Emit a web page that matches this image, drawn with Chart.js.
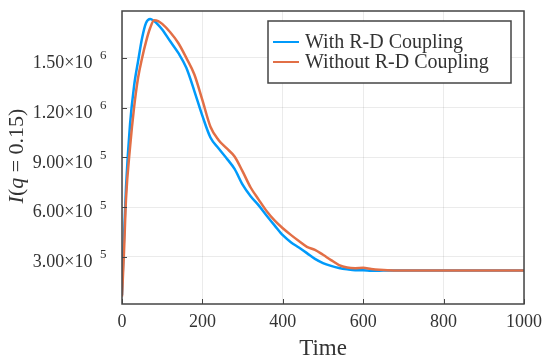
<!DOCTYPE html>
<html>
<head>
<meta charset="utf-8">
<script src="https://cdn.jsdelivr.net/npm/chart.js@4"></script>
<style>
  html, body { margin: 0; padding: 0; background: #fff; }
  #wrap { width: 550px; height: 361px; }
</style>
</head>
<body>
<div id="wrap"><canvas id="myChart" width="550" height="361"></canvas></div>
<script>
const times = [0, 5, 10, 20, 30, 40, 50, 60, 70, 80, 90, 100, 120, 140, 160, 180, 200, 220, 240, 260, 280, 300,
    320, 340, 360, 380, 400, 420, 440, 460, 480, 500, 520, 540, 560, 580, 600, 620, 640, 660, 700, 800, 900, 1000];
const withCoupling = [70000, 420000, 720000, 1100000, 1330000, 1480000, 1620000, 1712000, 1735000, 1722000, 1700000, 1672000,
    1600000, 1530000, 1440000, 1300000, 1150000, 1020000, 955000, 895000, 830000, 735000,
    665000, 610000, 548000, 488000, 430000, 388000, 356000, 322000, 287000, 262000, 245000, 232000, 224000, 219000,
    219000, 216000, 216000, 217000, 217000, 217000, 217000, 217000];
const withoutCoupling = [60000, 330000, 650000, 960000, 1200000, 1380000, 1500000, 1600000, 1680000, 1727000, 1722000, 1705000,
    1655000, 1590000, 1500000, 1400000, 1245000, 1085000, 1005000, 955000, 905000, 815000,
    718000, 645000, 575000, 518000, 472000, 432000, 395000, 360000, 342000, 312000, 280000, 250000, 235000, 231000,
    233000, 226000, 221000, 218000, 217000, 217000, 217000, 217000];
const seriesNames = ['With R-D Coupling', 'Without R-D Coupling'];
const xTicks = [0, 200, 400, 600, 800, 1000];
const yTicks = [300000, 600000, 900000, 1200000, 1500000];
const yTickMantissa = ['3.00×10', '6.00×10', '9.00×10', '1.20×10', '1.50×10'];
const yTickExponent = ['5', '5', '5', '6', '6'];

const SERIF = '"Liberation Serif", "DejaVu Serif", serif';
const TEXT = '#333333';
const FRAME = '#444444';

const toPoints = (vals) => vals.map((v, i) => ({ x: times[i], y: v }));

// frame, inward ticks, y labels, axis titles and boxed legend
const decorations = {
    id: 'decorations',
    afterDraw(chart) {
        const { ctx, chartArea: a, scales } = chart;
        const x = scales.x, y = scales.y;
        ctx.save();

        ctx.strokeStyle = FRAME;
        ctx.lineWidth = 1.5;
        ctx.strokeRect(a.left, a.top, a.right - a.left, a.bottom - a.top);

        ctx.lineWidth = 1;
        ctx.beginPath();
        xTicks.forEach(t => {
            const px = Math.round(x.getPixelForValue(t)) + 0.5;
            ctx.moveTo(px, a.bottom);
            ctx.lineTo(px, a.bottom - 5);
        });
        yTicks.forEach(t => {
            const py = Math.round(y.getPixelForValue(t)) + 0.5;
            ctx.moveTo(a.left, py);
            ctx.lineTo(a.left + 5, py);
        });
        ctx.stroke();

        ctx.fillStyle = TEXT;
        yTicks.forEach((t, i) => {
            const py = y.getPixelForValue(t);
            ctx.font = '18px ' + SERIF;
            ctx.textAlign = 'right';
            ctx.textBaseline = 'alphabetic';
            ctx.fillText(yTickMantissa[i], 92.5, py + 10.3);
            ctx.font = '13px ' + SERIF;
            ctx.textAlign = 'left';
            ctx.fillText(yTickExponent[i], 100, py + 1.5);
        });

        // x title
        ctx.font = '23px ' + SERIF;
        ctx.textAlign = 'center';
        ctx.textBaseline = 'alphabetic';
        ctx.fillText('Time', (a.left + a.right) / 2, 355);

        // y title with italic symbols
        const parts = [['I', true], ['(', false], ['q', true], [' = 0.15)', false]];
        ctx.save();
        ctx.translate(23, 156);
        ctx.rotate(-Math.PI / 2);
        let total = 0;
        parts.forEach(p => {
            ctx.font = (p[1] ? 'italic ' : '') + '22px ' + SERIF;
            total += ctx.measureText(p[0]).width;
        });
        let cx = -total / 2;
        ctx.textAlign = 'left';
        parts.forEach(p => {
            ctx.font = (p[1] ? 'italic ' : '') + '22px ' + SERIF;
            ctx.fillText(p[0], cx, 0);
            cx += ctx.measureText(p[0]).width;
        });
        ctx.restore();

        // legend
        const lx = 268, ly = 21, lw = 243, lh = 62;
        ctx.fillStyle = '#ffffff';
        ctx.fillRect(lx, ly, lw, lh);
        ctx.strokeStyle = FRAME;
        ctx.lineWidth = 1.5;
        ctx.strokeRect(lx, ly, lw, lh);
        chart.data.datasets.forEach((ds, i) => {
            const rowY = 42 + i * 20;
            ctx.strokeStyle = ds.borderColor;
            ctx.lineWidth = 2;
            ctx.beginPath();
            ctx.moveTo(273, rowY);
            ctx.lineTo(299, rowY);
            ctx.stroke();
            ctx.fillStyle = TEXT;
            ctx.font = '20px ' + SERIF;
            ctx.textAlign = 'left';
            ctx.textBaseline = 'middle';
            ctx.fillText(ds.label, 305, rowY + 1);
        });
        ctx.restore();
    }
};

new Chart(document.getElementById('myChart').getContext('2d'), {
    type: 'line',
    data: {
        datasets: [{
            label: seriesNames[0],
            data: toPoints(withCoupling),
            borderColor: '#009afa',
            borderWidth: 2.5,
            pointRadius: 0,
            cubicInterpolationMode: 'monotone',
            order: 1
        }, {
            label: seriesNames[1],
            data: toPoints(withoutCoupling),
            borderColor: '#e26f46',
            borderWidth: 2.5,
            pointRadius: 0,
            cubicInterpolationMode: 'monotone',
            order: 0
        }]
    },
    options: {
        responsive: false,
        animation: false,
        layout: { padding: { left: 0, right: 26, top: 11, bottom: 0 } },
        plugins: { legend: { display: false }, tooltip: { enabled: false } },
        scales: {
            x: {
                type: 'linear',
                min: 0,
                max: 1000,
                afterFit: (s) => { s.height = 57; },
                afterBuildTicks: (s) => { s.ticks = xTicks.map(v => ({ value: v })); },
                ticks: {
                    font: { family: SERIF, size: 18 }, color: TEXT, padding: 7, maxRotation: 0,
                    callback: (v) => String(v)
                },
                grid: { color: 'rgba(0,0,0,0.08)', drawTicks: false },
                border: { display: false }
            },
            y: {
                min: 15000,
                max: 1783000,
                afterFit: (s) => { s.width = 122; },
                afterBuildTicks: (s) => { s.ticks = yTicks.map(v => ({ value: v })); },
                ticks: { display: false },
                grid: { color: 'rgba(0,0,0,0.08)', drawTicks: false },
                border: { display: false }
            }
        }
    },
    plugins: [decorations]
});
</script>
</body>
</html>
